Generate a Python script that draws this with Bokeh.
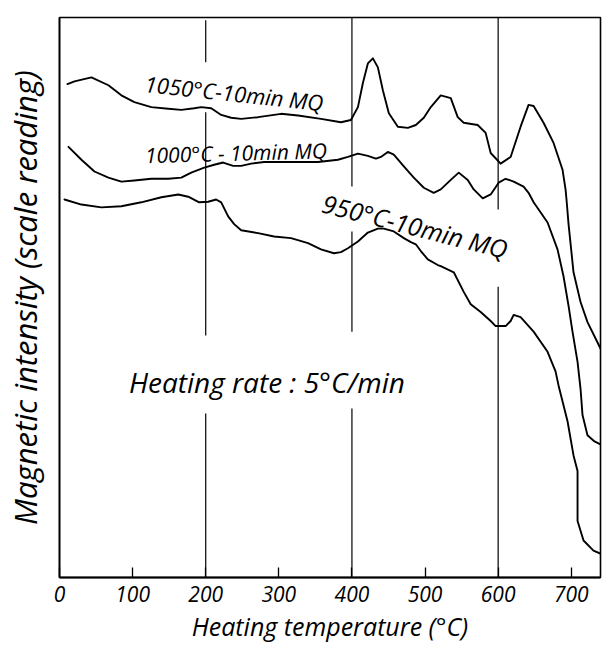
from bokeh.plotting import figure
from bokeh.models import Label, FixedTicker, Range1d
from bokeh.embed import file_html
from bokeh.resources import INLINE

# ---- data ----
# Heating temperature (deg C) and magnetic intensity (scale reading, arbitrary 0-100)
t_1050 = [10.9, 20.5, 43.7, 66.9, 84.6, 102.4, 125.6, 148.8, 166.6, 184.3, 193.9, 207.5, 221.2, 234.8,
          248.5, 271.7, 303.1, 326.3, 357.7, 385.0, 398.6, 408.2, 415.0, 421.8, 428.7, 435.5, 442.3,
          450.5, 462.8, 476.5, 487.4, 498.3, 507.9, 521.5, 535.2, 544.7, 552.9, 572.0, 582.9, 589.8,
          603.4, 617.1, 630.7, 641.6, 648.5, 662.1, 675.8, 688.1, 692.2, 693.5, 696.3, 703.1, 712.7,
          722.2, 740.0]
m_1050 = [88.1, 88.6, 89.3, 87.9, 86.1, 84.9, 84.0, 83.7, 83.5, 83.8, 84.0, 83.8, 82.6, 82.1,
          81.9, 82.2, 82.8, 82.5, 81.9, 81.3, 81.7, 84.0, 88.3, 91.8, 92.7, 91.1, 87.0,
          82.9, 80.5, 80.3, 80.8, 82.1, 84.0, 86.1, 85.6, 82.2, 81.2, 80.8, 79.4, 75.8,
          73.9, 75.1, 80.5, 84.4, 84.2, 81.2, 77.6, 72.8, 69.3, 67.5, 63.1, 54.5, 49.2,
          45.6, 40.9]

t_1000 = [12.3, 30.0, 47.8, 66.9, 84.6, 102.4, 125.6, 148.8, 166.6, 180.2, 198.0, 211.6, 223.9, 237.5,
          248.5, 262.1, 279.9, 316.7, 353.6, 380.9, 394.5, 408.2, 421.8, 432.8, 439.6, 449.1, 457.3,
          471.0, 484.6, 498.3, 511.9, 521.5, 535.2, 546.1, 558.4, 566.6, 578.9, 589.8, 600.7, 610.2,
          621.2, 634.8, 641.6, 648.5, 667.6, 681.2, 689.4, 696.3, 701.7, 708.6, 712.7, 715.4, 722.2,
          731.8, 742.8]
m_1000 = [76.9, 74.6, 72.5, 71.4, 70.7, 70.9, 71.2, 71.2, 71.4, 72.3, 73.2, 73.7, 74.1, 73.5,
          73.5, 73.9, 74.2, 74.2, 74.2, 74.6, 75.1, 75.7, 75.3, 74.8, 75.1, 76.0, 75.5,
          73.4, 71.4, 69.6, 68.7, 69.3, 71.0, 72.3, 71.0, 69.3, 67.7, 68.4, 70.5, 71.2,
          70.7, 69.8, 68.7, 67.0, 63.4, 58.6, 53.8, 48.5, 43.9, 38.5, 33.7, 29.0, 25.4,
          24.3, 23.6]

t_950 = [6.8, 30.0, 57.3, 84.6, 111.9, 139.3, 162.5, 176.1, 191.1, 203.4, 214.3, 221.2, 230.7, 238.9,
         248.5, 271.7, 293.5, 316.7, 339.9, 357.7, 375.4, 385.0, 394.5, 408.2, 421.8, 435.5, 443.7,
         457.3, 471.0, 480.6, 487.4, 494.2, 503.8, 517.4, 521.5, 539.3, 552.9, 562.5, 576.1, 589.8,
         596.6, 610.2, 617.1, 621.2, 630.7, 648.5, 667.6, 678.5, 682.6, 694.9, 703.1, 708.6, 708.6,
         716.8, 730.4, 742.8]
m_950 = [67.5, 66.6, 66.1, 66.3, 67.0, 67.9, 68.4, 68.0, 67.0, 67.1, 67.5, 67.0, 64.5, 63.1,
         62.0, 61.5, 60.9, 60.6, 59.7, 58.6, 57.9, 58.1, 58.8, 60.0, 61.6, 62.3, 62.3,
         61.8, 60.6, 59.9, 59.5, 58.3, 56.8, 55.8, 55.6, 54.5, 51.0, 48.8, 47.4, 45.8,
         44.9, 44.9, 45.8, 46.9, 46.5, 43.9, 40.3, 36.8, 34.3, 27.9, 21.8, 19.0, 10.1,
         6.6, 4.8, 4.1]

x_ticks = [0, 100, 200, 300, 400, 500, 600, 700]
x_tick_labels = ["0", "100", "200", "300", "400", "500", "600", "700"]

# vertical guide lines (hand drawn, interrupted where lettering is)
guide_x = [200, 200, 200, 400, 400, 400, 600, 600]
guide_y0 = [99.5, 83.1, 29.3, 100.0, 61.8, 30.2, 100.0, 51.9]
guide_y1 = [92.0, 43.2, 0.0, 69.8, 43.9, 0.0, 65.7, 0.0]

FONT = "Open Sans"

p = figure(width=602, height=645, output_backend="svg", toolbar_location=None,
           x_range=Range1d(0, 740), y_range=Range1d(0, 100),
           min_border_left=58, min_border_right=2, min_border_top=17, min_border_bottom=65)
p.background_fill_color = "white"
p.border_fill_color = "white"
p.outline_line_color = "black"
p.outline_line_width = 1.6
p.grid.visible = False

# x axis
p.xaxis.ticker = FixedTicker(ticks=x_ticks)
p.xaxis.major_label_overrides = {t: l for t, l in zip(x_ticks, x_tick_labels)}
p.xaxis.major_tick_in = 10
p.xaxis.major_tick_out = 0
p.xaxis.minor_tick_line_color = None
p.xaxis.axis_line_width = 1.8
p.xaxis.major_tick_line_width = 1.3
p.xaxis.major_label_text_font = FONT
p.xaxis.major_label_text_font_style = "italic"
p.xaxis.major_label_text_font_size = "21px"
p.xaxis.major_label_text_color = "black"
p.xaxis.major_label_standoff = 8
p.xaxis.axis_label = "Heating temperature (°C)"
p.xaxis.axis_label_text_font = FONT
p.xaxis.axis_label_text_font_style = "italic"
p.xaxis.axis_label_text_font_size = "25px"
p.xaxis.axis_label_text_color = "black"
p.xaxis.axis_label_standoff = 4

# y axis: only a title
p.yaxis.ticker = FixedTicker(ticks=[])
p.yaxis.major_tick_in = 0
p.yaxis.major_tick_out = 0
p.yaxis.minor_tick_line_color = None
p.yaxis.axis_line_width = 1.6
p.yaxis.axis_label = "Magnetic intensity (scale reading)"
p.yaxis.axis_label_text_font = FONT
p.yaxis.axis_label_text_font_style = "italic"
p.yaxis.axis_label_text_font_size = "31px"
p.yaxis.axis_label_text_color = "black"
p.yaxis.axis_label_standoff = 14

p.segment(x0=guide_x, y0=guide_y0, x1=guide_x, y1=guide_y1, line_color="black", line_width=1.2)

for t, m in ((t_1050, m_1050), (t_1000, m_1000), (t_950, m_950)):
    p.line(t, m, line_color="black", line_width=1.9, line_join="round", line_cap="round")

def note(text, x, y, angle, size):
    p.add_layout(Label(x=x, y=y, text=text, angle=angle, text_font=FONT,
                       text_font_style="italic", text_font_size=size, text_color="black",
                       text_align="left", text_baseline="alphabetic"))

note("1050°C-10min MQ", 117.0, 88.3, -0.108, "22px")
note("1000°C - 10min MQ", 117.0, 75.4, 0.027, "21px")
note("950°C-10min MQ", 360.4, 67.0, -0.25, "25px")
note("Heating rate : 5°C/min", 95.0, 35.0, 0.0, "28px")

open("out.html", "w").write(file_html(p, INLINE))
